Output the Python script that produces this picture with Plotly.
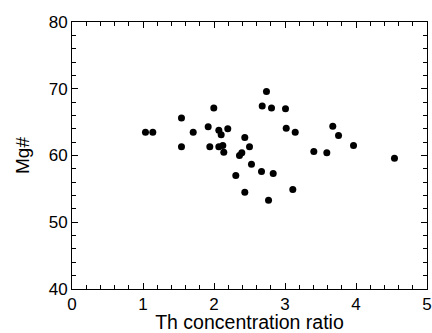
import plotly.graph_objects as go

th_ratio = [1.035, 1.138, 1.542, 1.542, 1.707, 1.997, 1.918, 2.068, 2.101, 2.194,
            2.434, 1.941, 2.068, 2.124, 2.138, 2.500, 2.359, 2.392, 2.679, 2.739,
            2.810, 3.007, 3.017, 3.144, 3.406, 3.589, 3.673, 3.754, 3.965, 4.542,
            2.528, 2.307, 2.434, 2.669, 2.834, 2.768, 3.110]
mg_number = [63.5, 63.5, 65.6, 61.3, 63.5, 67.1, 64.3, 63.8, 63.1, 64.0,
             62.7, 61.3, 61.3, 61.5, 60.5, 61.3, 60.0, 60.4, 67.4, 69.6,
             67.1, 67.0, 64.1, 63.5, 60.6, 60.4, 64.4, 63.0, 61.5, 59.6,
             58.7, 57.0, 54.5, 57.6, 57.3, 53.3, 54.9]

x_ticks = [0, 1, 2, 3, 4, 5]
y_ticks = [40, 50, 60, 70, 80]

fig = go.Figure(go.Scatter(
    x=th_ratio, y=mg_number, mode="markers",
    marker=dict(color="black", size=7, line=dict(width=0)),
))

axis_common = dict(
    showgrid=False, zeroline=False, showline=True, linecolor="black", linewidth=1,
    mirror="ticks", ticks="inside", ticklen=6, tickwidth=1, tickcolor="black",
    tickfont=dict(size=17, color="black"),
)

fig.update_layout(
    width=432, height=333,
    margin=dict(l=72, r=5, t=22, b=44),
    paper_bgcolor="white", plot_bgcolor="white",
    font=dict(family="Liberation Sans, Arial, sans-serif", color="black"),
    showlegend=False,
    xaxis=dict(range=[0, 5], tickvals=x_ticks,
               minor=dict(dtick=0.2, ticks="inside", ticklen=4, tickcolor="black"),
               title=dict(text="Th concentration ratio", font=dict(size=19.5), standoff=6),
               automargin=False, **axis_common),
    yaxis=dict(range=[40, 80], tickvals=y_ticks,
               minor=dict(dtick=2, ticks="inside", ticklen=4, tickcolor="black"),
               title=dict(text="Mg#", font=dict(size=19), standoff=14),
               automargin=False, **axis_common),
)

fig.write_html("out.html",
               config={"displayModeBar": False},
               post_script="document.body.style.margin='0';document.body.style.overflow='hidden';")
